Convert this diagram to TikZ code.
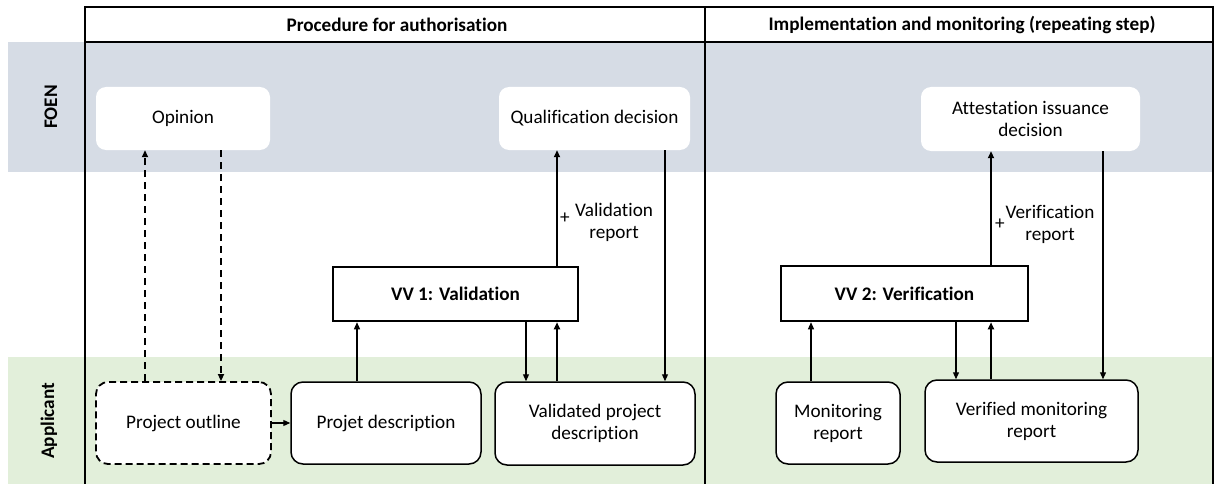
\documentclass[tikz,border=0pt]{standalone}
\usepackage{fontspec}
\setmainfont{Carlito}[Ligatures={NoCommon,TeX}]
\usetikzlibrary{arrows.meta}
\definecolor{foenbg}{HTML}{D6DCE5}
\definecolor{appbg}{HTML}{E2EFDA}
\begin{document}
\begin{tikzpicture}[x=1pt,y=-1pt,
  txt/.style={font=\fontsize{19.2}{22}\selectfont, align=center, inner sep=0pt},
  btxt/.style={font=\fontsize{19.2}{22}\selectfont\bfseries, align=center, inner sep=0pt},
  foenbox/.style={txt, fill=white, draw=none, rounded corners=10pt},
  appbox/.style={txt, fill=white, draw=black, line width=1.5pt, rounded corners=12pt},
  dashbox/.style={appbox, line width=1.8pt, dash pattern=on 7pt off 4pt},
  vvbox/.style={btxt, fill=white, draw=black, line width=2.5pt},
  thinarrow/.style={line width=1.2pt, -{Triangle[length=7pt,width=6pt]}},
  thickarrow/.style={line width=2.4pt, -{Triangle[length=7pt,width=6pt]}},
  dasharrow/.style={line width=1.6pt, dash pattern=on 7pt off 5pt, -{Triangle[length=7pt,width=6pt]}},
  framel/.style={line width=2.6pt}
]
\useasboundingbox (0,0) rectangle (1215,484);
% lanes
\fill[foenbg] (8,42) rectangle (1213,172);
\fill[appbg] (8,357) rectangle (1213,484);
% frame
\draw[framel] (85,484) -- (85,7) -- (1213,7) -- (1213,484);
\draw[framel] (85,42) -- (1213,42);
\draw[framel] (705,7) -- (705,484);
% headers
\node[btxt] (h1) at (397,25) {Procedure for authorisation};
\node[btxt] (h2) at (962,25) {Implementation and monitoring (repeating step)};
\node[btxt, rotate=90] (lf) at (51,107) {FOEN};
\node[btxt, rotate=90] (la) at (49,421) {Applicant};
% FOEN boxes
\node[foenbox, minimum width=174pt, minimum height=63pt] (op) at (183,118.5) {Opinion};
\node[foenbox, minimum width=191pt, minimum height=63pt] (qd) at (594.5,118.5) {Qualification decision};
\node[foenbox, minimum width=219pt, minimum height=64pt] (at) at (1030.5,119) {Attestation issuance\\decision};
% VV boxes
\node[vvbox, minimum width=245pt, minimum height=54pt] (vv1) at (455.5,294) {VV 1: Validation};
\node[vvbox, minimum width=247pt, minimum height=55pt] (vv2) at (904.5,293.5) {VV 2: Verification};
% applicant boxes
\node[dashbox, minimum width=175pt, minimum height=82pt] (po) at (183.5,423) {Project outline};
\node[appbox, minimum width=190pt, minimum height=82pt] (pd) at (386,423) {Projet description};
\node[appbox, minimum width=200pt, minimum height=83pt] (vp) at (595,423.5) {Validated project\\description};
\node[appbox, minimum width=124pt, minimum height=82pt] (mr) at (838,423) {Monitoring\\report};
\node[appbox, minimum width=213pt, minimum height=82pt] (vm) at (1031.5,421) {Verified monitoring\\report};
% columns
\coordinate (c1) at (145,0);
\coordinate (c2) at (221,0);
\coordinate (c3) at (357,0);
\coordinate (c4) at (526,0);
\coordinate (c5) at (557,0);
\coordinate (c6) at (665,0);
\coordinate (c7) at (811,0);
\coordinate (c8) at (956,0);
\coordinate (c9) at (991,0);
\coordinate (c10) at (1103,0);
% connectors
\draw[dasharrow] (po.north -| c1) -- (op.south -| c1);
\draw[dasharrow] (op.south -| c2) -- (po.north -| c2);
\draw[thinarrow] (po.east) -- (pd.west);
\draw[thinarrow] (pd.north -| c3) -- (vv1.south -| c3);
\draw[thinarrow] (vv1.south -| c4) -- (vp.north -| c4);
\draw[thickarrow] (vp.north -| c5) -- (vv1.south -| c5);
\draw[thickarrow] (vv1.north -| c5) -- (qd.south -| c5);
\draw[thinarrow] (qd.south -| c6) -- (vp.north -| c6);
\draw[thinarrow] (mr.north -| c7) -- (vv2.south -| c7);
\draw[thinarrow] (vv2.south -| c8) -- (vm.north -| c8);
\draw[thickarrow] (vm.north -| c9) -- (vv2.south -| c9);
\draw[thickarrow] (vv2.north -| c9) -- (at.south -| c9);
\draw[thinarrow] (at.south -| c10) -- (vm.north -| c10);
% labels
\node[txt] (p1) at (565,218) {+};
\node[txt] (l1) at (614,222) {Validation\\report};
\node[txt] (p2) at (1000,224) {+};
\node[txt] (l2) at (1050,224) {Verification\\report};
\end{tikzpicture}
\end{document}
